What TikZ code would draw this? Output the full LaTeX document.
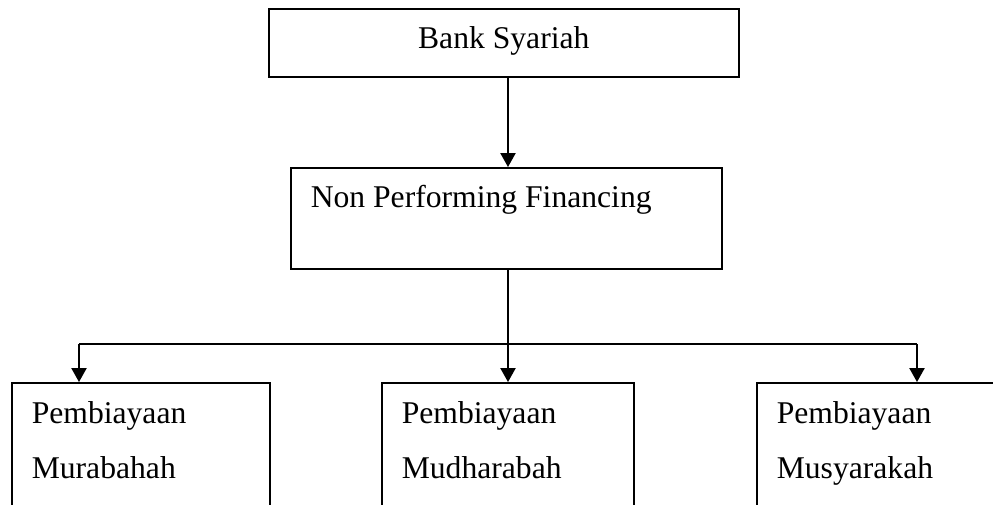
\documentclass[tikz,border=0pt]{standalone}
\usepackage{fontspec}
\setmainfont{Liberation Serif}
\usetikzlibrary{arrows.meta}

\tikzset{
  box/.style={draw, line width=1.1pt, anchor=north west, inner xsep=0.5cm, inner ysep=0pt,
              text height=1cm, text depth=#1, font=\fontsize{22.5}{39}\selectfont},
  wire/.style={line width=1.2pt},
  link/.style={wire, -{Triangle[length=0.35cm,width=0.38cm]}}
}

\begin{document}
\begin{tikzpicture}

\useasboundingbox (0,0) rectangle (24.825,-12.6);
\clip (0,0) rectangle (24.825,-12.6);

\node[box=0.7cm] (bank) at (6.7,-0.2) {\parbox[t]{10.75cm}{\centering Bank Syariah}};
\node[box=1.525cm] (npf) at (7.25,-4.175) {\parbox[t]{9.775cm}{Non Performing Financing}};

\node[box=2.675cm, text height=1.025cm] (mur) at (0.275,-9.55) {\parbox[t]{5.45cm}{Pembiayaan\\Murabahah}};
\node[box=2.675cm, text height=1.025cm] (mud) at (9.525,-9.55) {\parbox[t]{5.3cm}{Pembiayaan\\Mudharabah}};
\node[box=2.675cm, text height=1.025cm] (mus) at (18.9,-9.55) {\parbox[t]{5.35cm}{Pembiayaan\\Musyarakah}};

\coordinate (split) at (12.7,-8.6);
\coordinate (lhook) at (1.975,-8.6);
\coordinate (rhook) at (22.925,-8.6);

\draw [link] (bank.south -| split) -- (npf.north -| split);
\draw [wire] (npf.south -| split) -- (split);
\draw [wire] (lhook) -- (rhook);

\draw [link] (lhook) -- (mur.north -| lhook);
\draw [link] (split) -- (mud.north -| split);
\draw [link] (rhook) -- (mus.north -| rhook);

\end{tikzpicture}
\end{document}
